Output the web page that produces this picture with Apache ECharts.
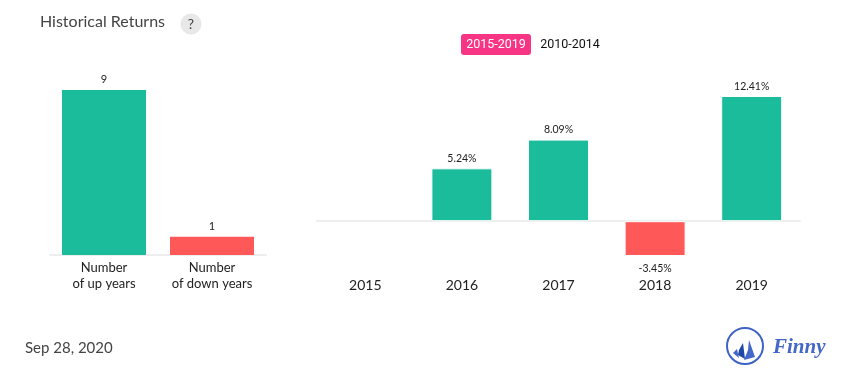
<!DOCTYPE html>
<html>
<head>
<meta charset="utf-8">
<style>html,body{margin:0;padding:0;background:#fff}#main{width:855px;height:382px}</style>
<script src="https://cdn.jsdelivr.net/npm/echarts@6/dist/echarts.min.js"></script>
</head>
<body>
<div id="main"></div>
<script>
// left chart
const countLabels = ['Number\nof up years', 'Number\nof down years'];
const countValues = [9, 1];
// right chart
const years = ['2015', '2016', '2017', '2018', '2019'];
const returns = [null, 5.24, 8.09, -3.45, 12.41];
const periods = ['2015-2019', '2010-2014'];

const GREEN = '#1abc9c', RED = '#ff5858', LINE = '#eeeeee', FONT = 'Lato';

const chart = echarts.init(document.getElementById('main'), null, {renderer: 'canvas'});

const option = {
  animation: false,
  textStyle: {fontFamily: FONT},
  grid: [
    {left: 50, top: 90, width: 216, height: 165},
    {left: 317, top: 96, width: 483, height: 160}
  ],
  xAxis: [
    {
      gridIndex: 0, type: 'category', data: countLabels,
      axisTick: {show: false},
      axisLine: {lineStyle: {color: LINE, width: 2}},
      axisLabel: {color: '#222', fontSize: 13, fontFamily: FONT, lineHeight: 16, margin: 5, interval: 0}
    },
    {
      gridIndex: 1, type: 'category', data: years,
      axisTick: {show: false},
      axisLine: {onZero: true, lineStyle: {color: LINE, width: 2}},
      axisLabel: {color: '#222', fontSize: 14, fontFamily: FONT, margin: 22, interval: 0}
    }
  ],
  yAxis: [
    {gridIndex: 0, type: 'value', min: 0, max: 9, show: false},
    {gridIndex: 1, type: 'value', min: -3.45, max: 12.41, show: false}
  ],
  series: [
    {
      type: 'bar', xAxisIndex: 0, yAxisIndex: 0, barWidth: 84,
      data: countValues,
      itemStyle: {color: p => p.dataIndex === 0 ? GREEN : RED},
      label: {show: true, position: 'top', color: '#222', fontSize: 11, fontFamily: FONT, distance: 5}
    },
    {
      type: 'bar', xAxisIndex: 1, yAxisIndex: 1, barWidth: 61,
      data: returns.map(v => v < 0 ? {value: v, label: {position: 'bottom', distance: 7}} : v),
      itemStyle: {
        color: p => p.value < 0 ? RED : GREEN,
        borderColor: '#fff', borderWidth: 1
      },
      label: {
        show: true, position: 'top', color: '#222', fontSize: 10.5, fontFamily: FONT, distance: 4,
        formatter: p => p.value + '%'
      }
    }
  ],
  graphic: [
    {type: 'text', left: 40, top: 14, style: {text: 'Historical Returns', fill: '#444', font: '16px Lato'}},
    {type: 'circle', shape: {cx: 191, cy: 24, r: 10.5}, style: {fill: '#e8e8e8'}},
    {type: 'text', x: 191, y: 24, style: {text: '?', fill: '#444', font: '14px Lato', align: 'center', verticalAlign: 'middle'}},

    {type: 'rect', shape: {x: 461, y: 34, width: 70, height: 21, r: 3}, style: {fill: '#f83484'}},
    {type: 'text', x: 496, y: 45, style: {text: periods[0], fill: '#fff', font: '12.5px Roboto', align: 'center', verticalAlign: 'middle'}},
    {type: 'text', x: 570, y: 45, style: {text: periods[1], fill: '#111', font: '12.5px Roboto', align: 'center', verticalAlign: 'middle'}},

    {type: 'text', left: 25, top: 341, style: {text: 'Sep 28, 2020', fill: '#444', font: '15px Lato'}},

    // logo
    {type: 'circle', shape: {cx: 745, cy: 346, r: 18}, style: {fill: 'none', stroke: '#3f63c4', lineWidth: 2}},
    {type: 'polygon', shape: {points: [[749, 340], [755, 357], [744, 360], [748, 350]]}, style: {fill: '#4468c8'}},
    {type: 'polygon', shape: {points: [[743, 343], [745, 359], [738, 355], [739, 350]]}, style: {fill: '#1f47a8'}},
    {type: 'polygon', shape: {points: [[737, 349], [739, 358], [733, 353]]}, style: {fill: '#4468c8'}},
    {type: 'text', x: 773, y: 348, style: {text: 'Finny', fill: '#4468c8', font: 'italic bold 21px "Liberation Serif"', verticalAlign: 'middle'}}
  ]
};

chart.setOption(option);
</script>
</body>
</html>
